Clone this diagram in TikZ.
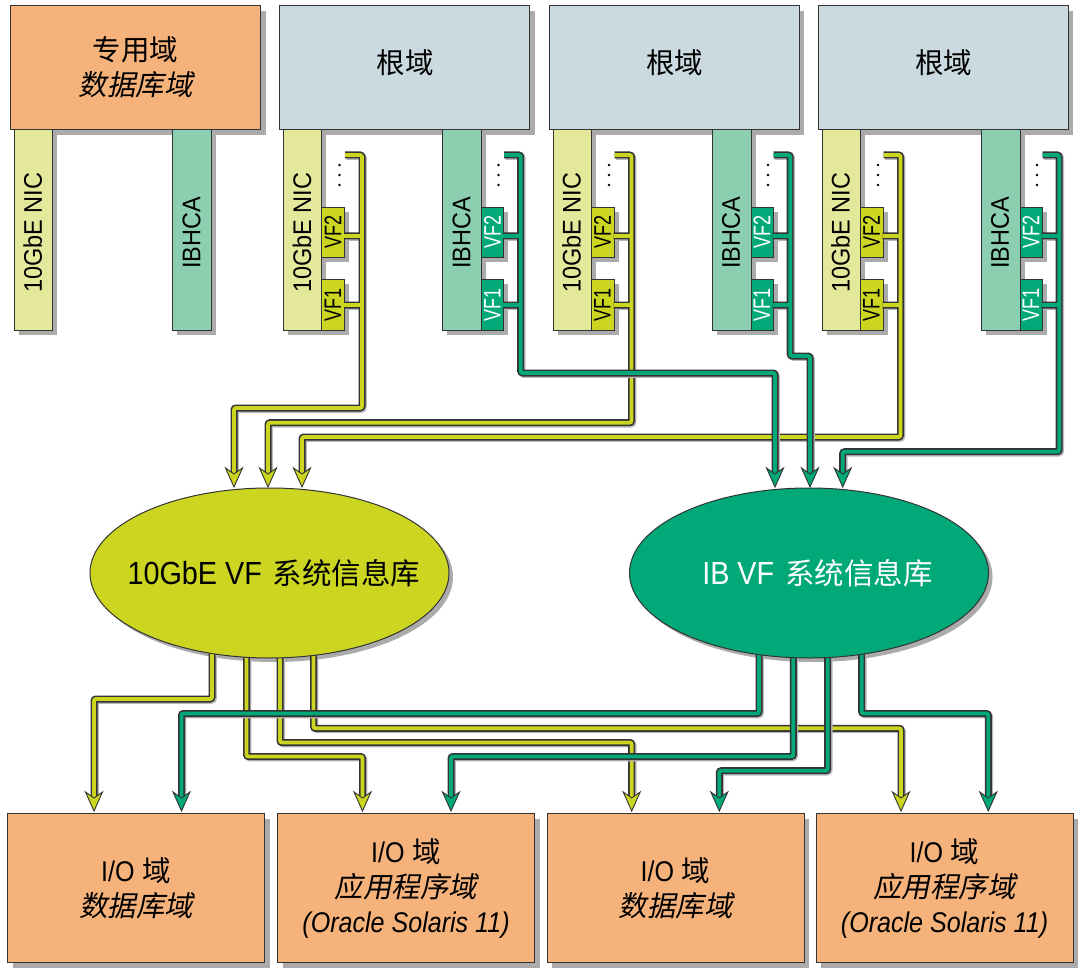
\documentclass[tikz,border=0pt]{standalone}
\usepackage{fontspec}
\usetikzlibrary{shapes.geometric,shadows}
\setmainfont{Liberation Sans}
\newfontfamily\cjk{Noto Sans CJK SC}
\newfontfamily\cjkit[FakeSlant=0.2]{Noto Sans CJK SC}
\newfontfamily\lat[FakeStretch=0.88]{Liberation Sans}
\newfontfamily\ellf[FakeStretch=0.9]{Liberation Sans}
\newfontfamily\cardf[FakeStretch=0.92]{Liberation Sans}
\newfontfamily\vff[FakeStretch=0.75]{Liberation Sans}
\definecolor{orng}{HTML}{F5B27A}
\definecolor{rootc}{HTML}{CBDAE0}
\definecolor{nicc}{HTML}{E3E89A}
\definecolor{hcac}{HTML}{8BCFB0}
\definecolor{vfy}{HTML}{CCD621}
\definecolor{vfg}{HTML}{00A977}
\definecolor{edge}{HTML}{333333}
\tikzset{
  shd/.style={drop shadow={shadow xshift=5pt,shadow yshift=-5pt,fill=black!33,opacity=1}},
  bx/.style={draw=edge, line width=1.1pt, rectangle, inner sep=0pt, anchor=north west, shd,
             minimum width=250pt, minimum height=124pt, align=center,
             font=\fontsize{28.5}{35}\selectfont},
  lowbx/.style={bx, fill=orng, minimum width=257pt, minimum height=149pt},
  cardbx/.style={draw=edge, line width=0.9pt, rectangle, inner sep=0pt, anchor=north west,
                 minimum width=38pt, minimum height=201pt, shd},
  vfbx/.style={draw=edge, line width=0.9pt, rectangle, inner sep=0pt, anchor=north west,
               minimum width=23pt, minimum height=50pt, shd},
  cardtxt/.style={rotate=90, inner sep=0pt, font=\cardf\fontsize{25.5}{26}\selectfont},
  vftxt/.style={rotate=90, inner sep=0pt, font=\vff\fontsize{24}{24}\selectfont},
  wire/.style={draw=edge, line width=7pt, rounded corners=2pt,
               preaction={draw=black!28, line width=7pt, transform canvas={shift={(1.3pt,-1.3pt)}}},
               postaction={draw=#1, line width=3.8pt}},
  pics/atip/.style={code={\draw[line width=0.9pt, draw=edge, fill=#1, line join=miter]
      (0,0) -- (-8.5,-19) -- (0,-13) -- (8.5,-19) -- cycle;}},
  ell/.style={ellipse, draw=edge, line width=1pt, minimum width=359pt, minimum height=170pt, inner sep=0pt},
}
\begin{document}
\begin{tikzpicture}[x=1pt,y=-1pt]
\useasboundingbox (0,0) rectangle (1081,976);

% ---------- top domains ----------
\node[bx, fill=orng] (pd) at (10,5) {{\cjk 专用域}\\{\cjkit 数据库域}};
\node[cardbx, fill=nicc] (pnic) at (13.8,129) {};
\node[cardbx, fill=hcac, minimum width=39pt] (phca) at (172,129) {};
\node[cardtxt] (pnict) at (32.8,233) {10GbE NIC};
\node[cardtxt] (phcat) at (191.5,233) {IBHCA};

\foreach \o/\n in {0/1, 269.5/2, 538.5/3}{
  \node[bx, fill=rootc] (root\n) at (279+\o,5) {};
  \node[inner sep=0pt, font=\cjk\fontsize{28.5}{35}\selectfont] (roott\n) at (405+\o,63) {根域};
  \node[cardbx, fill=nicc] (nic\n) at (283+\o,129) {};
  \node[vfbx, fill=vfy] (yvf2\n) at (321+\o,207) {};
  \node[vfbx, fill=vfy, minimum height=51pt] (yvf1\n) at (321+\o,279) {};
  \node[cardbx, fill=hcac, minimum width=39pt] (hca\n) at (442+\o,129) {};
  \node[vfbx, fill=vfg, minimum width=22pt] (gvf2\n) at (481+\o,207) {};
  \node[vfbx, fill=vfg, minimum width=22pt, minimum height=51pt] (gvf1\n) at (481+\o,279) {};
  \node[cardtxt] (nict\n) at (302+\o,233) {10GbE NIC};
  \node[cardtxt] (hcat\n) at (461.5+\o,233) {IBHCA};
  \node[vftxt] at (yvf2\n.center) {VF2};
  \node[vftxt] at (yvf1\n.center) {VF1};
  \node[vftxt, text=white] at (gvf2\n.center) {VF2};
  \node[vftxt, text=white] at (gvf1\n.center) {VF1};
  \foreach \yy in {165,175,185}{
    \fill[black] (339.5+\o,\yy) circle (1.4pt);
    \fill[black] (498.5+\o,\yy) circle (1.4pt);
  }
}

% ---------- top buses (yellow) ----------
\foreach \o/\xa/\yh in {0/234/408, 269.5/268/422.7, 538.5/302/437}{
  \draw[wire=vfy] (345+\o,155) -- (362+\o,155) |- (\xa,\yh) -- (\xa,475)
        (344+\o,236) -- (362+\o,236) (344+\o,305) -- (362+\o,305);
}
% ---------- top buses (green) ----------
\foreach \o/\xg/\yg in {0/775/373, 269.5/810/356, 538.5/842.7/451.7}{
  \draw[wire=vfg] (504+\o,155) -- (520.7+\o,155) |- (\xg,\yg) -- (\xg,475)
        (503+\o,236) -- (520.7+\o,236) (503+\o,305) -- (520.7+\o,305);
}

% ---------- ellipses ----------
\fill[black!33] (273.5,577) ellipse [x radius=179.5pt, y radius=85pt];
\fill[black!33] (813,577) ellipse [x radius=179.5pt, y radius=85pt];

% bottom connectors (yellow)
\draw[wire=vfy] (212,640) |- (94,699) -- (94,799);
\draw[wire=vfy] (246.5,640) |- (362.5,756.5) -- (362.5,799);
\draw[wire=vfy] (280,640) |- (631.7,742.5) -- (631.7,799);
\draw[wire=vfy] (313.5,640) |- (901,728.3) -- (901,799);
% bottom connectors (green)
\draw[wire=vfg] (759,640) |- (181.5,713.5) -- (181.5,799);
\draw[wire=vfg] (793.3,640) |- (451,756.5) -- (451,799);
\draw[wire=vfg] (827.7,640) |- (719.3,770.7) -- (719.3,799);
\draw[wire=vfg] (861.7,640) |- (988.3,713.5) -- (988.3,799);

\node[ell, fill=vfy] (e1) at (269.5,573) {};
\node[ell, fill=vfg] (e2) at (809,573) {};
\node[inner sep=0pt] (e1t) at (274,573)
  {{\ellf\fontsize{32}{32}\selectfont 10GbE VF}\hspace{11pt}{\cjk\fontsize{29.5}{32}\selectfont 系统信息库}};
\node[inner sep=0pt, text=white] (e2t) at (817.5,573)
  {{\ellf\fontsize{32}{32}\selectfont IB VF}\hspace{11pt}{\cjk\fontsize{29.5}{32}\selectfont 系统信息库}};

% arrowheads into ellipses
\foreach \x in {234,268,302}{ \pic at (\x,487) {atip=vfy}; }
\foreach \x in {775,810,842.7}{ \pic at (\x,487) {atip=vfg}; }

% ---------- bottom domains ----------
\node[lowbx] (io1) at (7,813) {{\lat I/O} {\cjk 域}\\{\cjkit 数据库域}};
\node[lowbx] (io2) at (277,813) {{\lat I/O} {\cjk 域}\\{\cjkit 应用程序域}\\{\lat\itshape (Oracle Solaris 11)}};
\node[lowbx] (io3) at (546.5,813) {{\lat I/O} {\cjk 域}\\{\cjkit 数据库域}};
\node[lowbx] (io4) at (815.5,813) {{\lat I/O} {\cjk 域}\\{\cjkit 应用程序域}\\{\lat\itshape (Oracle Solaris 11)}};

% arrowheads into I/O domains
\foreach \x in {94,362.5,631.7,901}{ \pic at (\x,811) {atip=vfy}; }
\foreach \x in {181.5,451,719.3,988.3}{ \pic at (\x,811) {atip=vfg}; }
\end{tikzpicture}
\end{document}
